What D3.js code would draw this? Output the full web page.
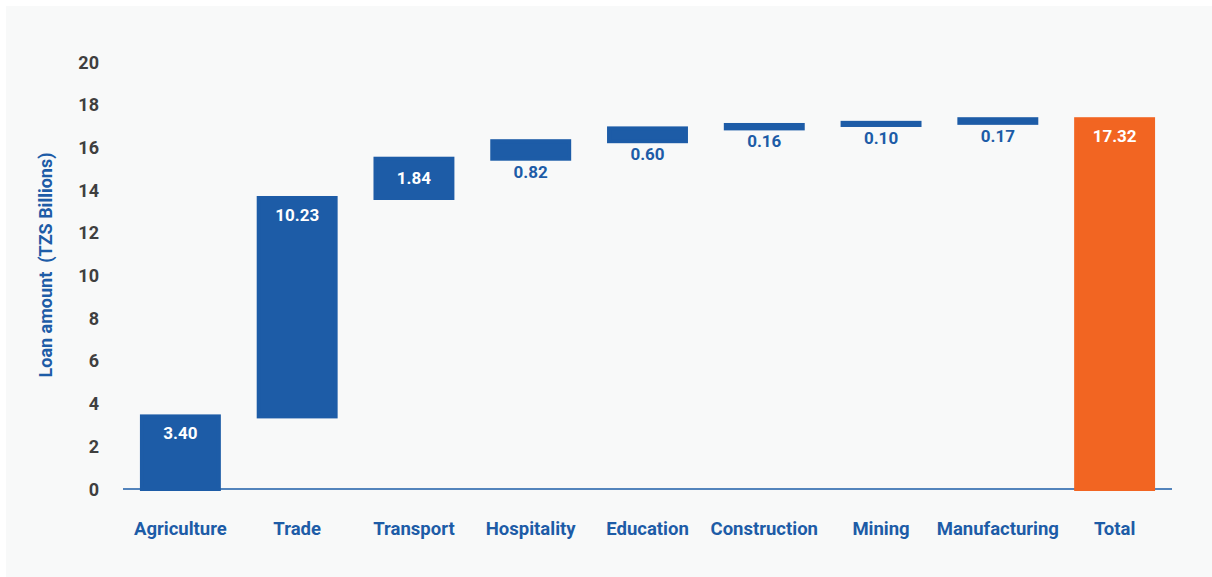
<!DOCTYPE html>
<html>
<head>
<meta charset="utf-8">
<script src="https://cdn.jsdelivr.net/npm/d3@7/dist/d3.min.js"></script>
<style>
  html, body { margin: 0; padding: 0; background: #ffffff; }
  svg { display: block; }
  text { font-family: Roboto, "Noto Sans", sans-serif; font-weight: 700; }
</style>
</head>
<body>
<svg id="chart" width="1212" height="577"></svg>
<script>
// Loan amounts by sector (TZS billions), shown as a waterfall ending in a total
const categories = ["Agriculture", "Trade", "Transport", "Hospitality", "Education",
                    "Construction", "Mining", "Manufacturing", "Total"];
const amounts = [3.40, 10.23, 1.84, 0.82, 0.60, 0.16, 0.10, 0.17];
const totalAmount = 17.32;
const yTicks = [0, 2, 4, 6, 8, 10, 12, 14, 16, 18, 20];
const yTitle = "Loan amount  (TZS Billions)";

const BLUE = "#1d5ca7";
const ORANGE = "#f26522";
const STROKE = 4;

const svg = d3.select("#chart");

// panel background
svg.append("rect")
  .attr("x", 6).attr("y", 6)
  .attr("width", 1212 - 6).attr("height", 577 - 6)
  .attr("fill", "#f8f9f9");

const x = d3.scaleBand()
  .domain(categories)
  .range([123, 1172])
  .paddingInner(0.307)
  .paddingOuter(0.145);

const y = d3.scaleLinear().domain([0, 20]).range([489, 62]);

// running totals for the floating bars
let run = 0;
const bars = amounts.map((v, i) => {
  const start = run;
  run += v;
  return { cat: categories[i], start, end: run, value: v, total: false };
});
bars.push({ cat: "Total", start: 0, end: totalAmount, value: totalAmount, total: true });

// y tick labels
svg.append("g")
  .selectAll("text")
  .data(yTicks)
  .join("text")
  .attr("x", 99)
  .attr("y", d => y(d) + 6.5)
  .attr("text-anchor", "end")
  .attr("font-size", 18)
  .attr("fill", "#3f3f3f")
  .text(d => d);

// y axis title
svg.append("text")
  .attr("transform", "translate(52,265) rotate(-90)")
  .attr("text-anchor", "middle")
  .attr("font-size", 18)
  .attr("fill", BLUE)
  .attr("xml:space", "preserve")
  .style("white-space", "pre")
  .text(yTitle);

// baseline
svg.append("line")
  .attr("x1", 123).attr("x2", 1172)
  .attr("y1", y(0)).attr("y2", y(0))
  .attr("stroke", BLUE)
  .attr("stroke-width", 1.5);

// bars
svg.append("g")
  .selectAll("rect")
  .data(bars)
  .join("rect")
  .attr("x", d => x(d.cat) + STROKE / 2)
  .attr("width", x.bandwidth() - STROKE)
  .attr("y", d => y(d.end))
  .attr("height", d => y(d.start) - y(d.end))
  .attr("fill", d => d.total ? ORANGE : BLUE)
  .attr("stroke", d => d.total ? ORANGE : BLUE)
  .attr("stroke-width", STROKE);

// value labels: inside the bar when it is tall enough, else just below it
svg.append("g")
  .selectAll("text")
  .data(bars)
  .join("text")
  .attr("x", d => x(d.cat) + x.bandwidth() / 2)
  .attr("y", d => {
    const top = y(d.end) - STROKE / 2;
    const bottom = y(d.start) + STROKE / 2;
    const h = bottom - top;
    if (h > 30) return h < 60 ? (top + bottom) / 2 + 6 : top + 25;
    return bottom + 17;
  })
  .attr("text-anchor", "middle")
  .attr("font-size", 17)
  .attr("fill", d => (y(d.start) - y(d.end) > 26) ? "#ffffff" : BLUE)
  .text(d => d.value.toFixed(2));

// category labels
svg.append("g")
  .selectAll("text")
  .data(categories)
  .join("text")
  .attr("x", d => x(d) + x.bandwidth() / 2)
  .attr("y", 535)
  .attr("text-anchor", "middle")
  .attr("font-size", 18.5)
  .attr("fill", BLUE)
  .text(d => d);
</script>
</body>
</html>
